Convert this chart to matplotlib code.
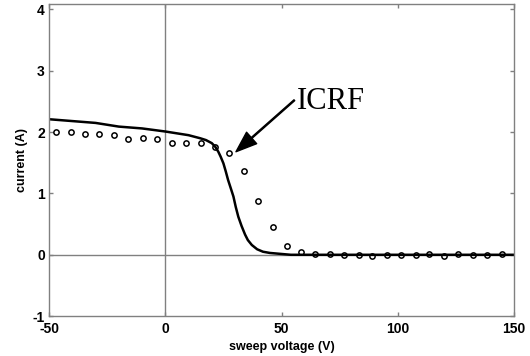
import matplotlib
matplotlib.use("Agg")
import matplotlib.pyplot as plt
import numpy as np

plt.rcParams["axes.unicode_minus"] = False

# probe data (circles)
v_pts = [-47.1, -40.7, -34.5, -28.4, -22.0, -15.9, -9.5, -3.4, 2.8, 8.9,
         15.2, 21.5, 27.5, 33.9, 40.0, 46.2, 52.2, 58.3, 64.5, 70.7,
         76.8, 83.1, 89.0, 95.3, 101.4, 107.6, 113.6, 119.7, 125.9, 132.2,
         138.4, 144.6]
i_pts = [2.00, 2.00, 1.97, 1.97, 1.95, 1.89, 1.90, 1.88, 1.83, 1.82,
         1.82, 1.75, 1.66, 1.37, 0.88, 0.45, 0.14, 0.05, 0.02, 0.02,
         0.00, 0.00, -0.02, -0.01, 0.00, 0.00, 0.01, -0.02, 0.02, -0.01,
         0.00, 0.02]

# model curve (solid line)
v_fit = [-50, -40, -30, -20, -10, 0, 10, 15, 17.5, 20, 21.5, 22.8, 23.8,
         25, 26, 27, 28.2, 29.3, 30.3, 31.4, 32.8, 34.3, 35.5, 37.2, 39.5,
         42, 45, 48, 54, 150]
i_fit = [2.21, 2.18, 2.15, 2.09, 2.06, 2.01, 1.95, 1.90, 1.87, 1.82, 1.76,
         1.68, 1.60, 1.49, 1.36, 1.22, 1.08, 0.95, 0.78, 0.62, 0.47, 0.33,
         0.24, 0.16, 0.09, 0.05, 0.03, 0.02, 0.00, 0.00]

gray = "#808080"

fig = plt.figure(figsize=(5.3, 3.56), dpi=100, facecolor="w")
ax = fig.add_axes([0.0925, 0.112, 0.8775, 0.877])

ax.axhline(0, color=gray, lw=1, zorder=1)
ax.axvline(0, color=gray, lw=1, zorder=1)

ax.plot(v_fit, i_fit, color="k", lw=1.8, zorder=2)
ax.plot(v_pts, i_pts, "o", mfc="none", mec="k", ms=3.8, mew=1.1, zorder=3)

ax.set_xlim(-50, 150)
ax.set_ylim(-1, 4.09)
ax.set_xticks([-50, 0, 50, 100, 150])
ax.set_yticks([-1, 0, 1, 2, 3, 4])

for s in ax.spines.values():
    s.set_color(gray)
    s.set_linewidth(1)
ax.tick_params(axis="both", which="both", direction="in", length=3,
               width=1, color=gray, top=True, right=True, pad=3)
ax.tick_params(axis="x", pad=4.5)
for lab in ax.get_xticklabels() + ax.get_yticklabels():
    lab.set_fontfamily("Liberation Sans")
    lab.set_fontweight("bold")
    lab.set_fontsize(10)

ax.set_xlabel("sweep voltage (V)", fontfamily="Liberation Sans",
              fontweight="bold", fontsize=9)
ax.set_ylabel("current (A)", fontfamily="Liberation Sans",
              fontweight="bold", fontsize=9)
ax.xaxis.set_label_coords(0.5, -0.08)
ax.yaxis.set_label_coords(-0.046, 0.5)

ax.annotate("", xy=(30.4, 1.68), xytext=(55.5, 2.52),
            arrowprops=dict(facecolor="k", edgecolor="k", width=0.8,
                            headwidth=11, headlength=15, shrink=0))
ax.text(56.5, 2.37, "ICRF", fontfamily="Liberation Serif", fontsize=22,
        ha="left", va="baseline")

fig.savefig("out.png", dpi=100)
